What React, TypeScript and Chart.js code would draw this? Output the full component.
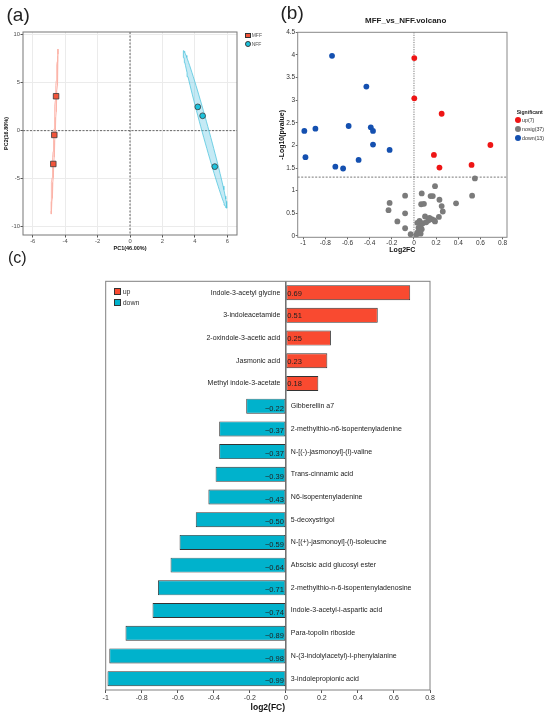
import { useEffect, useRef } from "react"
import { Chart, registerables } from "chart.js"

Chart.register(...registerables)

const FONT = 'Arial, "Liberation Sans", sans-serif'

// (a) PCA scores
const mffPC1 = [-4.56, -4.67, -4.73]
const mffPC2 = [3.59, -0.45, -3.48]
const nffPC1 = [4.18, 4.48, 5.23]
const nffPC2 = [2.48, 1.55, -3.76]
// confidence ellipses: ends of the long axis + half width along PC1
const mffEllipseTop = [-4.44, 8.51]
const mffEllipseBottom = [-4.87, -8.72]
const mffEllipseHalfWidth = 0.04
const nffEllipseTop = [3.3, 8.35]
const nffEllipseBottom = [5.96, -8.1]
const nffEllipseHalfWidth = 0.22
const pcaXTicks = [-6, -4, -2, 0, 2, 4, 6]
const pcaYTicks = [-10, -5, 0, 5, 10]

// (b) volcano
const upX = [0.003, 0.003, 0.25, 0.18, 0.23, 0.52, 0.69]
const upY = [3.93, 3.04, 2.7, 1.79, 1.51, 1.57, 2.01]
const downX = [-0.74, -0.43, -0.99, -0.89, -0.59, -0.39, -0.37, -0.37, -0.22, -0.98, -0.71, -0.64, -0.5]
const downY = [3.98, 3.3, 2.32, 2.37, 2.43, 2.4, 2.32, 2.02, 1.9, 1.74, 1.53, 1.49, 1.68]
const nosigX = [0.55, 0.19, -0.08, 0.07, 0.15, 0.17, 0.23, 0.525, -0.22, 0.065, 0.09, 0.38, 0.25, -0.23, 0.26, -0.08, 0.1, 0.225, 0.14, 0.16, 0.18, 0.13, 0.19, -0.15, 0.05, 0.03, 0.08, 0.11, 0.06, 0.04, 0.07, 0.05, 0.03, 0.06, -0.08, -0.03, 0.02]
const nosigY = [1.27, 1.1, 0.89, 0.94, 0.88, 0.88, 0.8, 0.89, 0.73, 0.7, 0.71, 0.72, 0.66, 0.57, 0.54, 0.5, 0.43, 0.42, 0.4, 0.37, 0.35, 0.34, 0.32, 0.32, 0.33, 0.29, 0.28, 0.3, 0.22, 0.18, 0.15, 0.1, 0.07, 0.05, 0.17, 0.04, 0.02]
const pThreshold = 1.3
const volXTicks = [-1, -0.8, -0.6, -0.4, -0.2, 0, 0.2, 0.4, 0.6, 0.8]
const volYTicks = [0, 0.5, 1, 1.5, 2, 2.5, 3, 3.5, 4, 4.5]

// (c) fold change
const compounds = [
  "Indole-3-acetyl glycine",
  "3-indoleacetamide",
  "2-oxindole-3-acetic acid",
  "Jasmonic acid",
  "Methyl indole-3-acetate",
  "Gibberellin a7",
  "2-methylthio-n6-isopentenyladenine",
  "N-[(-)-jasmonoyl]-(l)-valine",
  "Trans-cinnamic acid",
  "N6-isopentenyladenine",
  "5-deoxystrigol",
  "N-[(+)-jasmonoyl]-(l)-isoleucine",
  "Abscisic acid glucosyl ester",
  "2-methylthio-n-6-isopentenyladenosine",
  "Indole-3-acetyl-l-aspartic acid",
  "Para-topolin riboside",
  "N-(3-indolylacetyl)-l-phenylalanine",
  "3-indolepropionic acid",
]
const log2fc = [0.69, 0.51, 0.25, 0.23, 0.18, -0.22, -0.37, -0.37, -0.39, -0.43, -0.5, -0.59, -0.64, -0.71, -0.74, -0.89, -0.98, -0.99]
const fcTicks = [-1, -0.8, -0.6, -0.4, -0.2, 0, 0.2, 0.4, 0.6, 0.8]

const UP = "#F94A30"
const DOWN = "#00B2CC"

function ellipse(top: number[], bottom: number[], hw: number) {
  const cx = (top[0] + bottom[0]) / 2
  const cy = (top[1] + bottom[1]) / 2
  const ux = (top[0] - bottom[0]) / 2
  const uy = (top[1] - bottom[1]) / 2
  const pts = []
  for (let i = 0; i <= 90; i++) {
    const t = (i / 90) * Math.PI * 2
    pts.push({ x: cx + ux * Math.cos(t) + hw * Math.sin(t), y: cy + uy * Math.cos(t) })
  }
  return pts
}

const zip = (xs: number[], ys: number[]) => xs.map((x, i) => ({ x, y: ys[i] }))

const frame = (color: string) => ({
  id: "frame",
  afterDraw(chart: any) {
    const { ctx, chartArea: a } = chart
    ctx.save()
    ctx.strokeStyle = color
    ctx.lineWidth = 1
    ctx.strokeRect(a.left, a.top, a.right - a.left, a.bottom - a.top)
    ctx.restore()
  },
})

const setTicks = (vals: number[]) => (s: any) => {
  s.ticks = vals.map((v) => ({ value: v }))
}
const plain = (v: any) => String(v)

export default function App() {
  const aRef = useRef<HTMLCanvasElement>(null)
  const bRef = useRef<HTMLCanvasElement>(null)
  const cRef = useRef<HTMLCanvasElement>(null)

  useEffect(() => {
    const charts: Chart[] = []

    // ---- (a) PCA
    const zeroLines = {
      id: "zeroLines",
      beforeDatasetsDraw(chart: any) {
        const { ctx, chartArea: a, scales } = chart
        const x0 = scales.x.getPixelForValue(0)
        const y0 = scales.y.getPixelForValue(0)
        ctx.save()
        ctx.strokeStyle = "#666"
        ctx.lineWidth = 1
        ctx.setLineDash([2, 1.5])
        ctx.beginPath()
        ctx.moveTo(x0, a.top)
        ctx.lineTo(x0, a.bottom)
        ctx.moveTo(a.left, y0)
        ctx.lineTo(a.right, y0)
        ctx.stroke()
        ctx.restore()
      },
    }
    if (aRef.current) {
      charts.push(
        new Chart(aRef.current, {
          type: "scatter",
          data: {
            datasets: [
              {
                label: "MFF",
                data: zip(mffPC1, mffPC2),
                pointStyle: "rect",
                pointRadius: 3.9,
                backgroundColor: "#F2553B",
                borderColor: "#3a3a3a",
                borderWidth: 0.8,
                order: 0,
              },
              {
                label: "NFF",
                data: zip(nffPC1, nffPC2),
                pointRadius: 2.9,
                backgroundColor: "#1CC2DC",
                borderColor: "#3a3a3a",
                borderWidth: 0.8,
                order: 0,
              },
              {
                label: "MFF ellipse",
                data: ellipse(mffEllipseTop, mffEllipseBottom, mffEllipseHalfWidth),
                showLine: true,
                pointRadius: 0,
                borderColor: "#FBB4A8",
                borderWidth: 0.8,
                backgroundColor: "rgba(248,118,109,0.2)",
                fill: "shape",
                order: 1,
              },
              {
                label: "NFF ellipse",
                data: ellipse(nffEllipseTop, nffEllipseBottom, nffEllipseHalfWidth),
                showLine: true,
                pointRadius: 0,
                borderColor: "#55C6DE",
                borderWidth: 0.8,
                backgroundColor: "rgba(90,195,225,0.35)",
                fill: "shape",
                order: 1,
              },
            ],
          },
          options: {
            animation: false,
            responsive: true,
            maintainAspectRatio: false,
            layout: { padding: { left: 0, right: 38, top: 32, bottom: 0 } },
            plugins: { legend: { display: false }, tooltip: { enabled: false } },
            scales: {
              x: {
                type: "linear",
                min: -6.6,
                max: 6.6,
                afterBuildTicks: setTicks(pcaXTicks),
                afterFit: (s: any) => {
                  s.height = 25
                },
                grid: { color: "#ebebeb", tickColor: "#555", tickLength: 2.5 },
                border: { display: false },
                ticks: { font: { family: FONT, size: 5.8 }, color: "#4d4d4d", padding: 0, callback: plain },
                title: {
                  display: true,
                  text: "PC1(46.00%)",
                  color: "#111",
                  font: { family: FONT, size: 5.5, weight: "bold" },
                  padding: { top: 0, bottom: 8.4 },
                },
              },
              y: {
                type: "linear",
                min: -10.9,
                max: 10.3,
                afterBuildTicks: setTicks(pcaYTicks),
                afterFit: (s: any) => {
                  s.width = 23
                },
                grid: { color: "#ebebeb", tickColor: "#555", tickLength: 2.5 },
                border: { display: false },
                ticks: { font: { family: FONT, size: 5.8 }, color: "#4d4d4d", padding: 0.5, callback: plain },
                title: {
                  display: true,
                  text: "PC2(16.80%)",
                  color: "#111",
                  font: { family: FONT, size: 5.5, weight: "bold" },
                  padding: { top: 3, bottom: 0 },
                },
              },
            },
          },
          plugins: [zeroLines, frame("#777")],
        })
      )
    }

    // ---- (b) volcano
    const thresholds = {
      id: "thresholds",
      beforeDatasetsDraw(chart: any) {
        const { ctx, chartArea: a, scales } = chart
        const x0 = scales.x.getPixelForValue(0)
        const yp = scales.y.getPixelForValue(pThreshold)
        ctx.save()
        ctx.strokeStyle = "#555"
        ctx.lineWidth = 0.8
        ctx.setLineDash([2, 1.5])
        ctx.beginPath()
        ctx.moveTo(a.left, yp)
        ctx.lineTo(a.right, yp)
        ctx.stroke()
        ctx.setLineDash([1.2, 1.2])
        ctx.beginPath()
        ctx.moveTo(x0, a.top)
        ctx.lineTo(x0, a.bottom)
        ctx.stroke()
        ctx.restore()
      },
    }
    if (bRef.current) {
      charts.push(
        new Chart(bRef.current, {
          type: "scatter",
          data: {
            datasets: [
              { label: "up(7)", data: zip(upX, upY), backgroundColor: "#EE1515", pointRadius: 2.9, borderWidth: 0 },
              { label: "nosig(37)", data: zip(nosigX, nosigY), backgroundColor: "#7b7b7b", pointRadius: 2.9, borderWidth: 0 },
              { label: "down(13)", data: zip(downX, downY), backgroundColor: "#1450B0", pointRadius: 2.9, borderWidth: 0 },
            ],
          },
          options: {
            animation: false,
            responsive: true,
            maintainAspectRatio: false,
            layout: { padding: { left: 0, right: 43, top: 32.3, bottom: 0 } },
            plugins: { legend: { display: false }, tooltip: { enabled: false } },
            scales: {
              x: {
                type: "linear",
                min: -1.05,
                max: 0.84,
                afterBuildTicks: setTicks(volXTicks),
                afterFit: (s: any) => {
                  s.height = 22.7
                },
                grid: { drawOnChartArea: false, tickColor: "#666", tickLength: 2 },
                border: { display: false },
                ticks: { font: { family: FONT, size: 6.5 }, color: "#333", padding: 0, callback: plain },
                title: {
                  display: true,
                  text: "Log2FC",
                  color: "#111",
                  font: { family: FONT, size: 7, weight: "bold" },
                  padding: { top: 0, bottom: 5.8 },
                },
              },
              y: {
                type: "linear",
                min: -0.03,
                max: 4.5,
                afterBuildTicks: setTicks(volYTicks),
                afterFit: (s: any) => {
                  s.width = 22.7
                },
                grid: { drawOnChartArea: false, tickColor: "#666", tickLength: 2 },
                border: { display: false },
                ticks: { font: { family: FONT, size: 6.5 }, color: "#333", padding: 0.5, callback: plain },
                title: {
                  display: true,
                  text: "-Log10(pvalue)",
                  color: "#111",
                  font: { family: FONT, size: 7, weight: "bold" },
                  padding: { top: 2.8, bottom: 0 },
                },
              },
            },
          },
          plugins: [thresholds, frame("#888")],
        })
      )
    }

    // ---- (c) log2FC bars
    const barText = {
      id: "barText",
      afterDatasetsDraw(chart: any) {
        const { ctx, chartArea: a, scales } = chart
        const x0 = scales.x.getPixelForValue(0)
        const meta = chart.getDatasetMeta(0)
        ctx.save()
        ctx.strokeStyle = "#222"
        ctx.lineWidth = 1
        ctx.beginPath()
        ctx.moveTo(x0, a.top)
        ctx.lineTo(x0, a.bottom)
        ctx.stroke()
        ctx.fillStyle = "#222"
        ctx.textBaseline = "middle"
        meta.data.forEach((bar: any, i: number) => {
          const v = log2fc[i]
          const label = v.toFixed(2).replace("-", "\u2212")
          if (v >= 0) {
            ctx.font = `7px ${FONT}`
            ctx.textAlign = "right"
            ctx.fillText(compounds[i], x0 - 5.5, bar.y)
            ctx.font = `7.5px ${FONT}`
            ctx.textAlign = "left"
            ctx.fillText(label, x0 + 1.5, bar.y + 0.8)
          } else {
            ctx.font = `7px ${FONT}`
            ctx.textAlign = "left"
            ctx.fillText(compounds[i], x0 + 5, bar.y)
            ctx.font = `7.5px ${FONT}`
            ctx.textAlign = "right"
            ctx.fillText(label, x0 - 2, bar.y + 2.5)
          }
        })
        ctx.restore()
      },
    }
    if (cRef.current) {
      charts.push(
        new Chart(cRef.current, {
          type: "bar",
          data: {
            labels: compounds,
            datasets: [
              {
                label: "log2(FC)",
                data: log2fc,
                backgroundColor: log2fc.map((v) => (v >= 0 ? UP : DOWN)),
                borderColor: "#333",
                borderWidth: 0.9,
                borderSkipped: false,
                barPercentage: 0.66,
                categoryPercentage: 1,
              },
            ],
          },
          options: {
            indexAxis: "y",
            animation: false,
            responsive: true,
            maintainAspectRatio: false,
            layout: { padding: { left: 105.7, right: 120, top: 11.3, bottom: 0 } },
            plugins: { legend: { display: false }, tooltip: { enabled: false } },
            scales: {
              x: {
                type: "linear",
                min: -1,
                max: 0.8,
                afterBuildTicks: setTicks(fcTicks),
                afterFit: (s: any) => {
                  s.height = 27
                },
                grid: { drawOnChartArea: false, tickColor: "#555", tickLength: 3 },
                border: { display: false },
                ticks: { font: { family: FONT, size: 7 }, color: "#333", padding: 0.5, callback: plain },
                title: {
                  display: true,
                  text: "log2(FC)",
                  color: "#111",
                  font: { family: FONT, size: 8.5, weight: "bold" },
                  padding: { top: 0, bottom: 4.2 },
                },
              },
              y: { display: false },
            },
          },
          plugins: [barText, frame("#808080")],
        })
      )
    }

    return () => {
      charts.forEach((c) => c.destroy())
    }
  }, [])

  const abs = (left: number, top: number, extra: any = {}) => ({
    position: "absolute" as const,
    left,
    top,
    whiteSpace: "nowrap" as const,
    lineHeight: 1,
    ...extra,
  })

  const swatch = (left: number, top: number, size: number, color: string, round: boolean) => (
    <div
      style={abs(left, top, {
        width: size,
        height: size,
        background: color,
        border: round ? "none" : "0.8px solid #333",
        borderRadius: round ? "50%" : 0,
        boxSizing: "border-box",
      })}
    />
  )

  return (
    <div
      style={{
        position: "absolute",
        left: 0,
        top: 0,
        width: 550,
        height: 717,
        background: "#fff",
        fontFamily: FONT,
        color: "#222",
        overflow: "hidden",
      }}
    >
      <div style={abs(0, 0, { width: 275, height: 260 })}>
        <canvas ref={aRef} />
      </div>
      <div style={abs(275, 0, { width: 275, height: 260 })}>
        <canvas ref={bRef} />
      </div>
      <div style={abs(0, 270, { width: 550, height: 447 })}>
        <canvas ref={cRef} />
      </div>

      <div style={abs(6.5, 4.9, { fontSize: 19 })}>(a)</div>
      <div style={abs(280.5, 2.6, { fontSize: 19 })}>(b)</div>
      <div style={abs(8, 249.8, { fontSize: 16 })}>(c)</div>

      {/* (a) legend */}
      {swatch(245, 32.5, 5.5, "#F2553B", false)}
      <div style={abs(251.7, 32.7, { fontSize: 5, color: "#555" })}>MFF</div>
      <div
        style={abs(245, 41.3, {
          width: 5.8,
          height: 5.8,
          background: "#1CC2DC",
          border: "0.8px solid #333",
          borderRadius: "50%",
          boxSizing: "border-box",
        })}
      />
      <div style={abs(251.7, 41.7, { fontSize: 5, color: "#555" })}>NFF</div>

      {/* (b) title + legend */}
      <div style={abs(405.7, 16.7, { fontSize: 8, fontWeight: "bold", transform: "translateX(-50%)" })}>
        MFF_vs_NFF.volcano
      </div>
      <div style={abs(516.7, 109.5, { fontSize: 5.1, fontWeight: "bold" })}>Significant</div>
      {swatch(515.3, 117.3, 6, "#EE1515", true)}
      <div style={abs(522, 117.6, { fontSize: 5.3, color: "#333" })}>up(7)</div>
      {swatch(515.3, 126.3, 6, "#7b7b7b", true)}
      <div style={abs(522, 126.6, { fontSize: 5.3, color: "#333" })}>nosig(37)</div>
      {swatch(515.3, 135.3, 6, "#1450B0", true)}
      <div style={abs(522, 135.6, { fontSize: 5.3, color: "#333" })}>down(13)</div>

      {/* (c) legend */}
      {swatch(114.3, 288.3, 6.5, UP, false)}
      <div style={abs(122.7, 288, { fontSize: 7, color: "#333" })}>up</div>
      {swatch(114.3, 299.3, 6.5, DOWN, false)}
      <div style={abs(122.7, 299, { fontSize: 7, color: "#333" })}>down</div>
    </div>
  )
}
